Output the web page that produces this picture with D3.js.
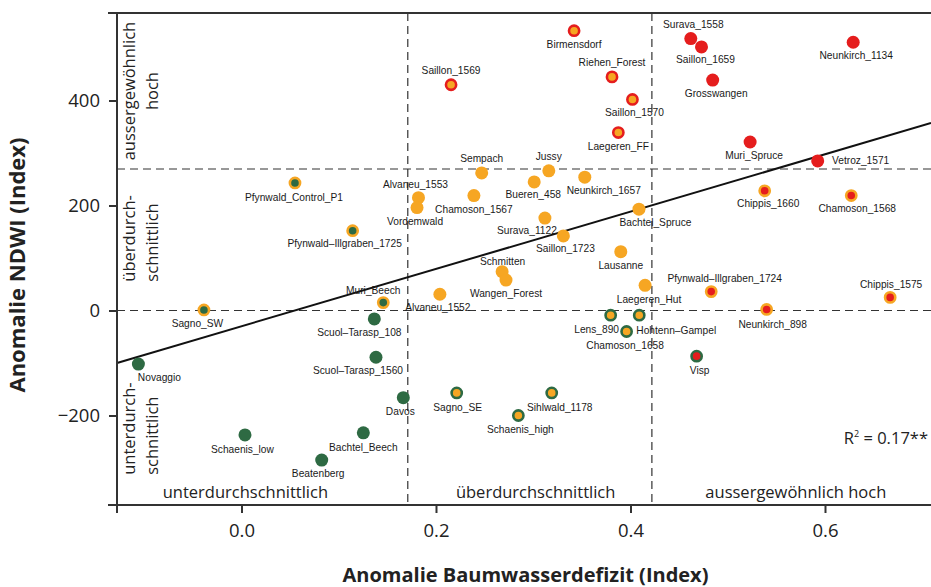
<!DOCTYPE html>
<html>
<head>
<meta charset="utf-8">
<script src="https://cdn.jsdelivr.net/npm/d3@7"></script>
<style>
  html, body { margin: 0; padding: 0; background: #fff; }
  svg { display: block; }
</style>
</head>
<body>
<script>
// site names and anomalies
const sites = [
  "Birmensdorf", "Saillon_1569", "Riehen_Forest", "Saillon_1570", "Laegeren_FF",
  "Surava_1558", "Saillon_1659", "Grosswangen", "Neunkirch_1134", "Muri_Spruce", "Vetroz_1571",
  "Sempach", "Jussy", "Bueren_458", "Neunkirch_1657", "Alvaneu_1553", "Vordemwald",
  "Chamoson_1567", "Surava_1122", "Saillon_1723", "Bachtel_Spruce", "Lausanne",
  "Schmitten", "Wangen_Forest", "Laegeren_Hut", "Alvaneu_1552",
  "Pfynwald_Control_P1", "Pfynwald–Illgraben_1725", "Muri_Beech", "Sagno_SW",
  "Chippis_1660", "Chamoson_1568", "Pfynwald–Illgraben_1724", "Chippis_1575", "Neunkirch_898",
  "Visp", "Lens_890", "Hohtenn–Gampel", "Chamoson_1658", "Sagno_SE", "Sihlwald_1178", "Schaenis_high",
  "Scuol–Tarasp_108", "Scuol–Tarasp_1560", "Novaggio", "Davos", "Schaenis_low", "Bachtel_Beech", "Beatenberg"
];
const waterDeficit = [
  0.342, 0.2155, 0.381, 0.402, 0.3875,
  0.462, 0.473, 0.4845, 0.629, 0.523, 0.5925,
  0.247, 0.316, 0.301, 0.353, 0.182, 0.1805,
  0.239, 0.312, 0.331, 0.4087, 0.390,
  0.268, 0.272, 0.415, 0.204,
  0.055, 0.1143, 0.1458, -0.0386,
  0.538, 0.627, 0.483, 0.667, 0.540,
  0.468, 0.3796, 0.409, 0.396, 0.2213, 0.319, 0.2847,
  0.1366, 0.1383, -0.106, 0.1664, 0.0036, 0.1253, 0.0825
];
const ndwi = [
  533, 430, 445, 402, 339,
  518, 502, 439, 511, 321, 285,
  262, 266, 245, 254, 215, 196,
  219, 176, 142, 193, 112,
  74, 58, 48, 31,
  243, 152, 15, 1,
  228, 219, 36, 25, 2,
  -87, -9, -9, -40, -157, -157, -200,
  -16, -89, -102, -166, -237, -233, -285
];

// class limits (dashed lines) and fitted line
const deficitLimits = [0.171, 0.422];
const ndwiLimits = [0, 269.5];
const fitIntercept = -30;
const fitSlope = 546;
const rSquared = "0.17**";

const xTicks = [0, 0.2, 0.4, 0.6];
const yTicks = [-200, 0, 200, 400];
const classNames = ["unterdurchschnittlich", "überdurchschnittlich", "aussergewöhnlich hoch"];
const classColors = ["#2e6a43", "#f6a623", "#e51d1d"];

// label nudges [dx, dy] from the dot, default below
const labelNudge = {
  "Saillon_1569": [0, -11], "Riehen_Forest": [0, -11], "Saillon_1570": [2, 17],
  "Sempach": [0, -10.5], "Jussy": [0, -11], "Bueren_458": [-1, 16],
  "Neunkirch_1657": [19, 17], "Alvaneu_1553": [-3, -9.5], "Vordemwald": [-2, 17],
  "Surava_1122": [-18, 16], "Saillon_1723": [2, 16.5], "Bachtel_Spruce": [16.5, 17],
  "Schmitten": [0.5, -6.5], "Laegeren_Hut": [4, 18], "Pfynwald–Illgraben_1725": [-8, 16],
  "Pfynwald_Control_P1": [-1, 18], "Muri_Beech": [-10, -8.5], "Alvaneu_1552": [-2, 16.5],
  "Surava_1558": [2.5, -10.5], "Saillon_1659": [4, 16.5], "Grosswangen": [3.5, 17],
  "Neunkirch_1134": [3, 16.5], "Muri_Spruce": [4, 17], "Vetroz_1571": [43, 3.5],
  "Chippis_1660": [3.5, 16], "Chamoson_1568": [6, 16.5], "Pfynwald–Illgraben_1724": [13.5, -9.5],
  "Chippis_1575": [1, -9.5], "Neunkirch_898": [6, 18.5], "Visp": [3, 18],
  "Hohtenn–Gampel": [37, 19], "Lens_890": [-14, 18], "Chamoson_1658": [-1.5, 18],
  "Scuol–Tarasp_108": [-15, 17.5], "Scuol–Tarasp_1560": [-18, 16.7], "Davos": [-3, 17.3],
  "Bachtel_Beech": [0, 18], "Sagno_SE": [1, 18], "Sihlwald_1178": [8, 18], "Schaenis_high": [2, 18],
  "Sagno_SW": [-6.5, 17.5], "Novaggio": [21, 17], "Schaenis_low": [-2.5, 18], "Beatenberg": [-3.5, 17]
};

const width = 931, height = 587;
const plotLeft = 117, plotRight = 931, plotTop = 13, plotBottom = 505;
const sansFont = "'Open Sans', 'DejaVu Sans', sans-serif";
const labelFont = "'Liberation Sans', Arial, sans-serif";
const ink = "#333";

const x = d3.scaleLinear().domain([-0.128, 0.709]).range([plotLeft, plotRight]);
const y = d3.scaleLinear().domain([-370.5, 566.7]).range([plotBottom, plotTop]);

const classOf = (v, lim) => v < lim[0] ? 0 : (v < lim[1] ? 1 : 2);

const points = sites.map((s, i) => ({
  name: s,
  dx: waterDeficit[i],
  nd: ndwi[i],
  fill: classColors[classOf(waterDeficit[i], deficitLimits)],
  ring: classColors[classOf(ndwi[i], ndwiLimits)]
}));

const svg = d3.select("body").append("svg")
  .attr("width", width)
  .attr("height", height);

// dashed class limits
svg.selectAll("line.vlim")
  .data(deficitLimits)
  .join("line")
  .attr("x1", d => x(d)).attr("x2", d => x(d))
  .attr("y1", plotTop).attr("y2", plotBottom)
  .style("stroke", ink).style("stroke-width", 1.2)
  .style("stroke-dasharray", "8,5");

svg.selectAll("line.hlim")
  .data(ndwiLimits)
  .join("line")
  .attr("x1", plotLeft).attr("x2", plotRight)
  .attr("y1", d => y(d)).attr("y2", d => y(d))
  .style("stroke", ink).style("stroke-width", 1.2)
  .style("stroke-dasharray", "8,5");

// fitted line
const fitX = x.domain();
svg.append("line")
  .attr("x1", x(fitX[0])).attr("y1", y(fitIntercept + fitSlope * fitX[0]))
  .attr("x2", x(fitX[1])).attr("y2", y(fitIntercept + fitSlope * fitX[1]))
  .style("stroke", "#111").style("stroke-width", 2);

// axes
const xAxis = svg.append("g")
  .attr("transform", `translate(0,${plotBottom})`)
  .call(d3.axisBottom(x).tickValues(xTicks).tickSize(8).tickPadding(11).tickFormat(d3.format(".1f")));
const yAxis = svg.append("g")
  .attr("transform", `translate(${plotLeft},0)`)
  .call(d3.axisLeft(y).tickValues(yTicks).tickSize(8).tickPadding(9).tickFormat(d3.format("d")));

[xAxis, yAxis].forEach(a => {
  a.select(".domain").remove();
  a.selectAll(".tick line").style("stroke", ink).style("stroke-width", 2);
  a.selectAll(".tick text")
    .style("font-family", sansFont).style("font-size", "18.5px").style("fill", "#222");
});

// frame
svg.append("line").attr("x1", 108).attr("x2", plotRight).attr("y1", plotTop).attr("y2", plotTop)
  .style("stroke", ink).style("stroke-width", 2);
svg.append("line").attr("x1", 108).attr("x2", plotRight).attr("y1", plotBottom).attr("y2", plotBottom)
  .style("stroke", ink).style("stroke-width", 2);
svg.append("line").attr("x1", plotLeft).attr("x2", plotLeft).attr("y1", plotTop).attr("y2", plotBottom + 8)
  .style("stroke", ink).style("stroke-width", 2);

// class names along the x axis
const xClassAt = [0.004, 0.3025, 0.570];
svg.selectAll("text.xclass")
  .data(classNames)
  .join("text")
  .attr("x", (d, i) => x(xClassAt[i]))
  .attr("y", 498)
  .attr("text-anchor", "middle")
  .style("font-family", sansFont).style("font-size", "16.5px").style("fill", "#222")
  .text(d => d);

// class names along the y axis (rotated)
const yClassLines = [
  { t: "aussergewöhnlich", v: 418, col: 135, anchor: "middle" },
  { t: "hoch", v: 418, col: 158, anchor: "middle" },
  { t: "überdurch-", v: 55, col: 135, anchor: "start" },
  { t: "schnittlich", v: 55, col: 158, anchor: "start" },
  { t: "unterdurch-", v: -313, col: 135, anchor: "start" },
  { t: "schnittlich", v: -313, col: 158, anchor: "start" }
];
svg.selectAll("text.yclass")
  .data(yClassLines)
  .join("text")
  .attr("transform", d => `translate(${d.col},${y(d.v)}) rotate(-90)`)
  .attr("text-anchor", d => d.anchor)
  .style("font-family", sansFont).style("font-size", "16.5px").style("fill", "#222")
  .text(d => d.t);

// dots
svg.selectAll("circle.dot")
  .data(points)
  .join("circle")
  .attr("cx", d => x(d.dx))
  .attr("cy", d => y(d.nd))
  .attr("r", d => d.fill === d.ring ? 6.5 : 5.1)
  .style("fill", d => d.fill)
  .style("stroke", d => d.ring)
  .style("stroke-width", d => d.fill === d.ring ? 0 : 2.6);

// site labels
svg.selectAll("text.site")
  .data(points)
  .join("text")
  .attr("x", d => x(d.dx) + (labelNudge[d.name] || [0, 17])[0])
  .attr("y", d => y(d.nd) + (labelNudge[d.name] || [0, 17])[1])
  .attr("text-anchor", "middle")
  .style("font-family", labelFont).style("font-size", "10.2px").style("fill", "#1a1a1a")
  .text(d => d.name);

// R squared
const r2 = svg.append("text")
  .attr("x", 928).attr("y", 444)
  .attr("text-anchor", "end")
  .style("font-family", sansFont).style("font-size", "16.5px").style("fill", "#222");
r2.append("tspan").text("R");
r2.append("tspan").attr("dy", -7).style("font-size", "9px").text("2");
r2.append("tspan").attr("dy", 7).text(" = " + rSquared);

// axis titles
svg.append("text")
  .attr("transform", `translate(25,265) rotate(-90)`)
  .attr("text-anchor", "middle")
  .style("font-family", sansFont).style("font-size", "22px").style("font-weight", "bold").style("fill", "#222")
  .text("Anomalie NDWI (Index)");
svg.append("text")
  .attr("x", 525.5).attr("y", 582)
  .attr("text-anchor", "middle")
  .style("font-family", sansFont).style("font-size", "20px").style("font-weight", "bold").style("fill", "#222")
  .text("Anomalie Baumwasserdefizit (Index)");
</script>
</body>
</html>
